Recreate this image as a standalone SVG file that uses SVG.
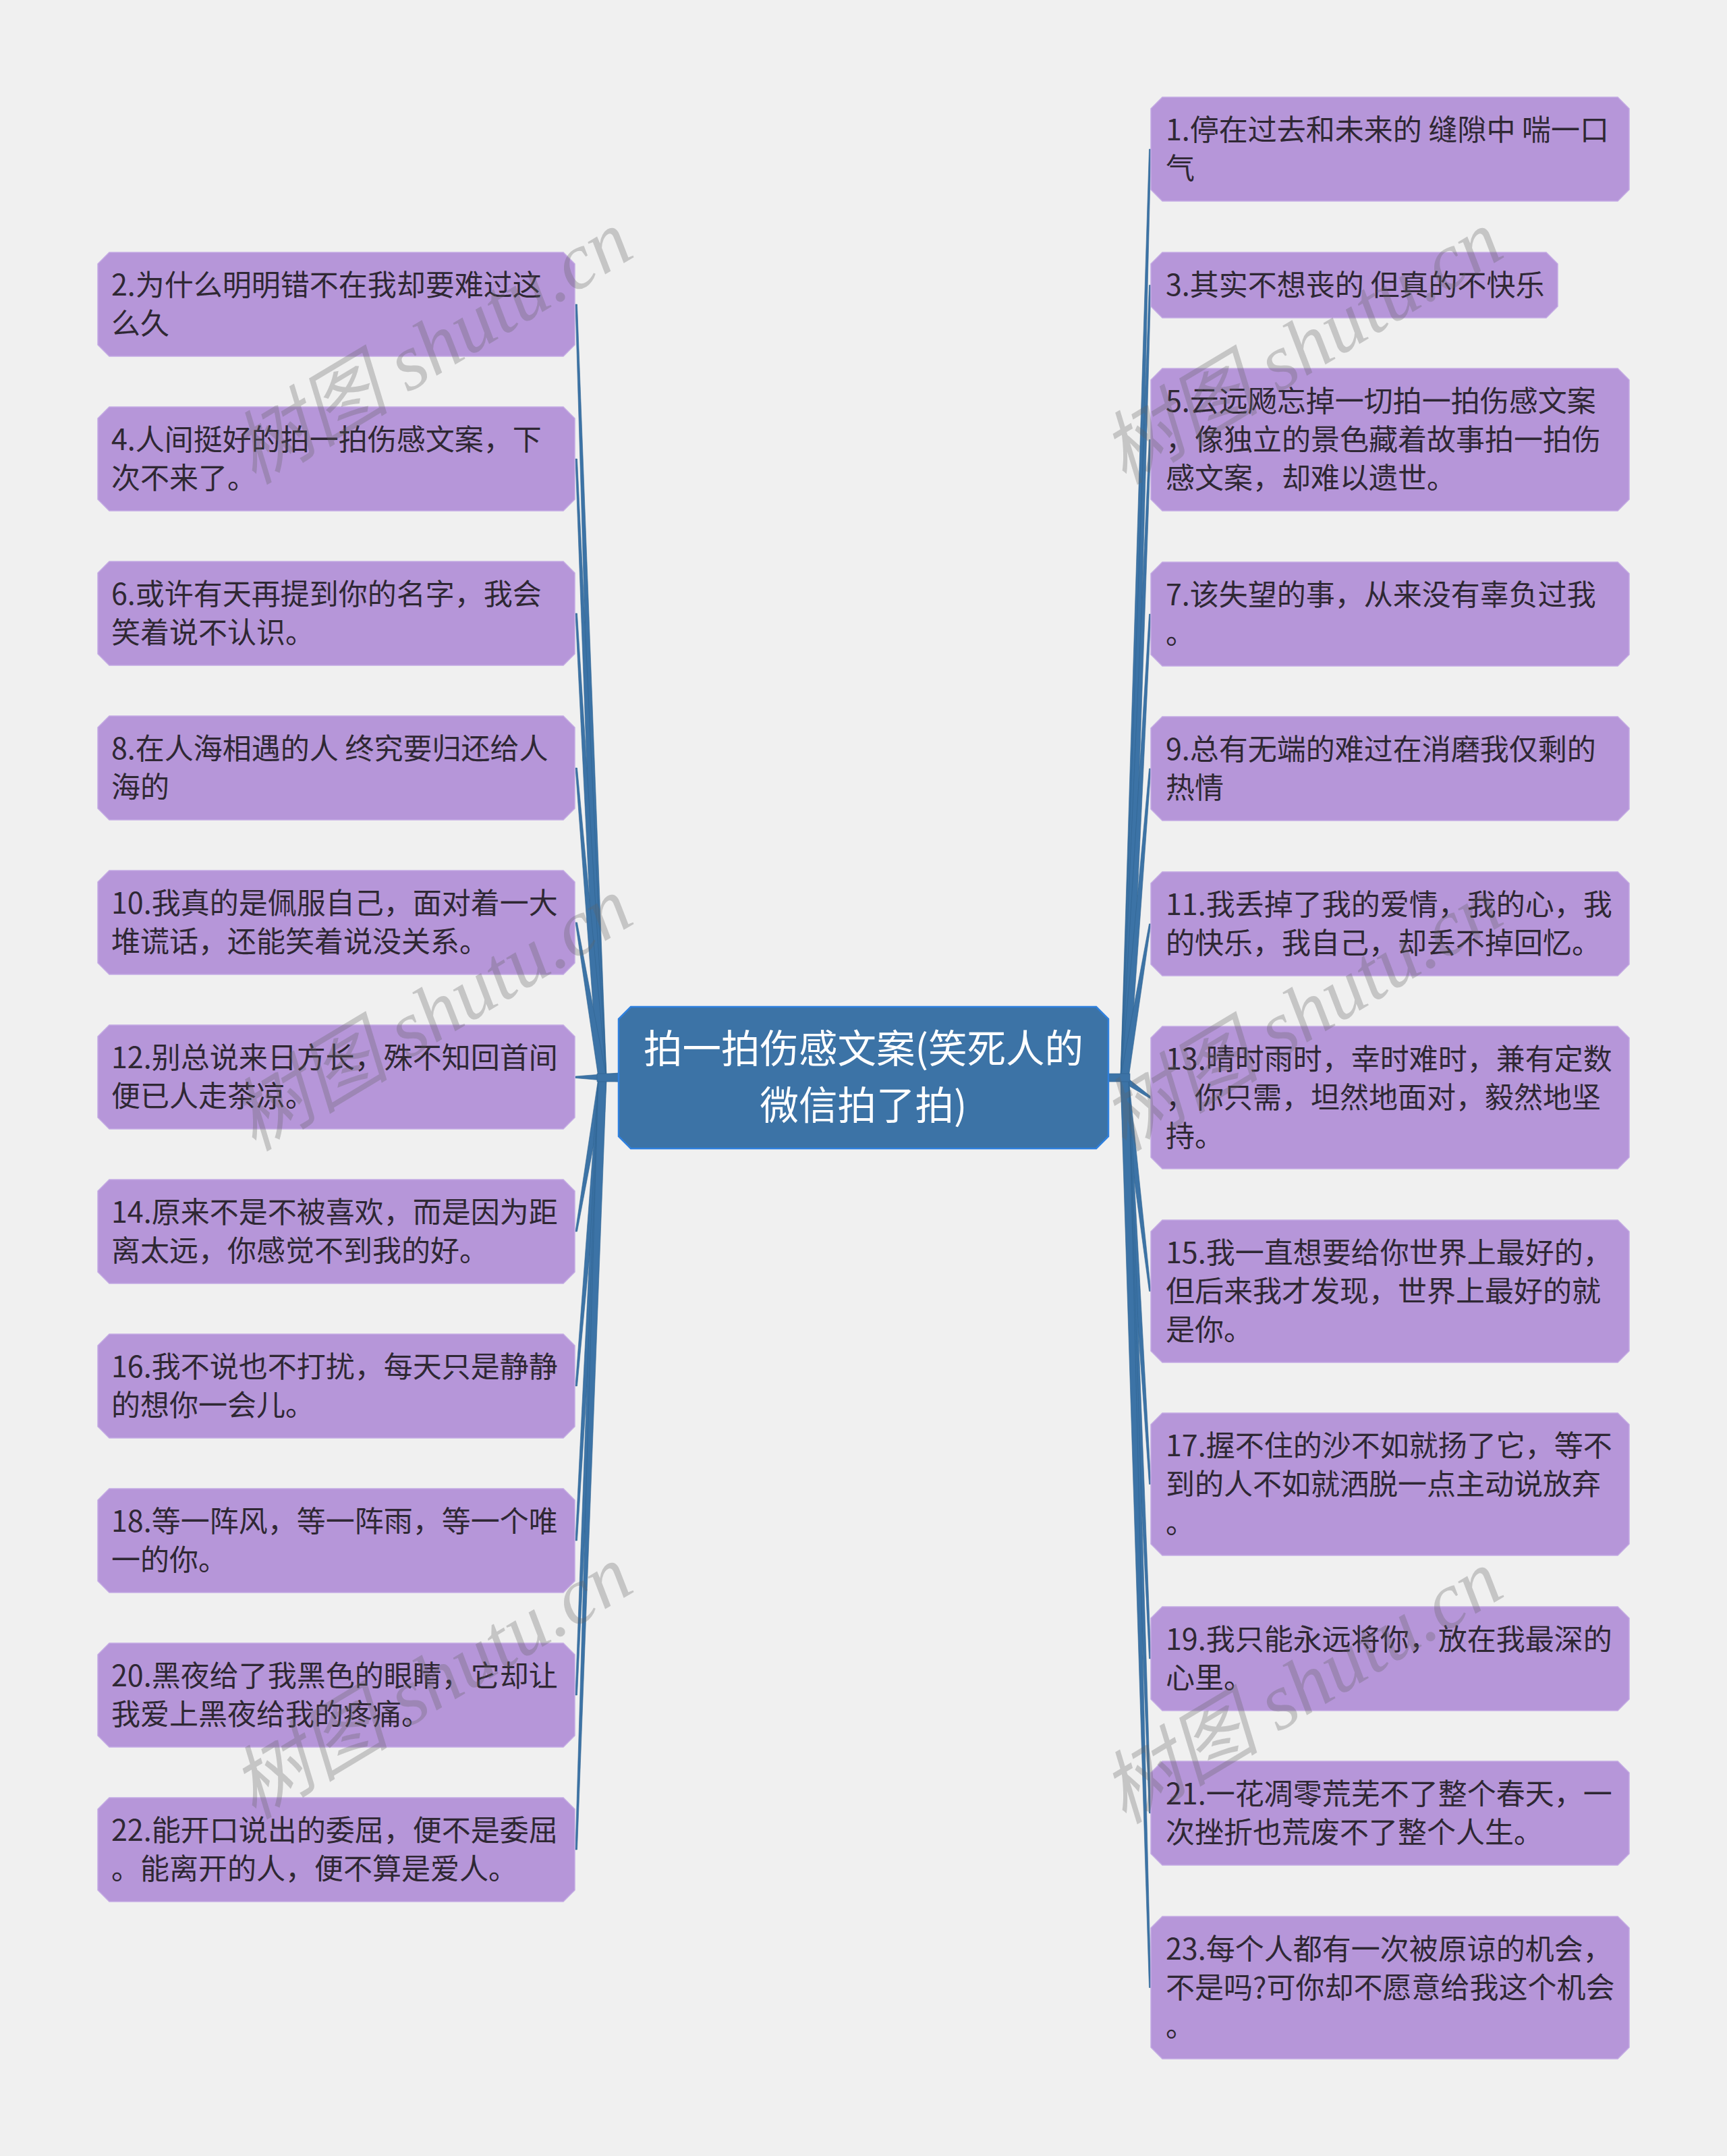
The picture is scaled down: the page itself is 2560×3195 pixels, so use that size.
<svg xmlns="http://www.w3.org/2000/svg" width="2560" height="3195" viewBox="0 0 2560 3195">
<style>
.n path{fill:#b696d9;stroke:#c3aae3;stroke-width:1.5}
.t{font-family:"Noto Sans CJK SC","Noto Sans",sans-serif;font-size:43px;fill:#2f2834}
.ct{font-family:"Noto Sans CJK SC","Noto Sans",sans-serif;font-size:57.5px;fill:#ffffff;text-anchor:middle}
.c path,.c rect{fill:#3c73a6;stroke:#2f6390;stroke-width:0.6}
.wm{font-family:"Liberation Serif","Noto Sans CJK SC",serif;font-style:italic;font-size:118px;fill:#646464;fill-opacity:0.3;text-anchor:middle;dominant-baseline:central}
</style>
<rect width="2560" height="3195" fill="#f0f0f0"/>
<g id="connectors" class="c">
<path d="M887,1597 L853,451 L855.5,451 L899,1597 Z"/>
<path d="M887,1597 L853,680 L855.5,680 L899,1597 Z"/>
<path d="M887,1597 L853,909 L855.5,909 L899,1597 Z"/>
<path d="M887,1597 L853,1138 L855.5,1138 L899,1597 Z"/>
<path d="M887,1597 L853,1367 L855.5,1367 L899,1597 Z"/>
<path d="M917,1590 L853,1595 L853,1597.5 L917,1603 Z"/>
<path d="M887,1597 L853,1825 L855.5,1825 L899,1597 Z"/>
<path d="M887,1597 L853,2054 L855.5,2054 L899,1597 Z"/>
<path d="M887,1597 L853,2283 L855.5,2283 L899,1597 Z"/>
<path d="M887,1597 L853,2512 L855.5,2512 L899,1597 Z"/>
<path d="M887,1597 L853,2741 L855.5,2741 L899,1597 Z"/>
<rect x="885" y="1591" width="34" height="12"/>
<path d="M1661,1597 L1703.5,221 L1706,221 L1673,1597 Z"/>
<path d="M1661,1597 L1703.5,422.5 L1706,422.5 L1673,1597 Z"/>
<path d="M1661,1597 L1703.5,651.5 L1706,651.5 L1673,1597 Z"/>
<path d="M1661,1597 L1703.5,910 L1706,910 L1673,1597 Z"/>
<path d="M1661,1597 L1703.5,1139 L1706,1139 L1673,1597 Z"/>
<path d="M1661,1597 L1703.5,1369 L1706,1369 L1673,1597 Z"/>
<path d="M1663,1591 L1706,1625 L1706,1628.5 L1663,1603 Z"/>
<path d="M1661,1597 L1703.5,1913.5 L1706,1913.5 L1673,1597 Z"/>
<path d="M1661,1597 L1703.5,2199.5 L1706,2199.5 L1673,1597 Z"/>
<path d="M1661,1597 L1703.5,2458 L1706,2458 L1673,1597 Z"/>
<path d="M1661,1597 L1703.5,2687 L1706,2687 L1673,1597 Z"/>
<path d="M1661,1597 L1703.5,2945.5 L1706,2945.5 L1673,1597 Z"/>
<rect x="1641" y="1591" width="34" height="12"/>
</g>
<g id="center">
<path d="M935,1492 h690 l18,18 v174 l-18,18 h-690 l-18,-18 v-174 z" fill="#3c73a6" stroke="#2f80de" stroke-width="2.5"/>
<text class="ct" x="1280" y="1575">拍一拍伤感文案(笑死人的</text>
<text class="ct" x="1280" y="1659">微信拍了拍)</text>
</g>
<g id="n2" class="n"><path d="M162,374 h673 l17,17 v120 l-17,17 h-673 l-17,-17 v-120 z"/><text class="t"><tspan x="165" y="438">2.为什么明明错不在我却要难过这</tspan><tspan x="165" y="495">么久</tspan></text></g>
<g id="n4" class="n"><path d="M162,603 h673 l17,17 v120 l-17,17 h-673 l-17,-17 v-120 z"/><text class="t"><tspan x="165" y="667">4.人间挺好的拍一拍伤感文案，下</tspan><tspan x="165" y="724">次不来了。</tspan></text></g>
<g id="n6" class="n"><path d="M162,832 h673 l17,17 v120 l-17,17 h-673 l-17,-17 v-120 z"/><text class="t"><tspan x="165" y="896">6.或许有天再提到你的名字，我会</tspan><tspan x="165" y="953">笑着说不认识。</tspan></text></g>
<g id="n8" class="n"><path d="M162,1061 h673 l17,17 v120 l-17,17 h-673 l-17,-17 v-120 z"/><text class="t"><tspan x="165" y="1125">8.在人海相遇的人 终究要归还给人</tspan><tspan x="165" y="1182">海的</tspan></text></g>
<g id="n10" class="n"><path d="M162,1290 h673 l17,17 v120 l-17,17 h-673 l-17,-17 v-120 z"/><text class="t"><tspan x="165" y="1354">10.我真的是佩服自己，面对着一大</tspan><tspan x="165" y="1411">堆谎话，还能笑着说没关系。</tspan></text></g>
<g id="n12" class="n"><path d="M162,1519 h673 l17,17 v120 l-17,17 h-673 l-17,-17 v-120 z"/><text class="t"><tspan x="165" y="1583">12.别总说来日方长，殊不知回首间</tspan><tspan x="165" y="1640">便已人走茶凉。</tspan></text></g>
<g id="n14" class="n"><path d="M162,1748 h673 l17,17 v120 l-17,17 h-673 l-17,-17 v-120 z"/><text class="t"><tspan x="165" y="1812">14.原来不是不被喜欢，而是因为距</tspan><tspan x="165" y="1869">离太远，你感觉不到我的好。</tspan></text></g>
<g id="n16" class="n"><path d="M162,1977 h673 l17,17 v120 l-17,17 h-673 l-17,-17 v-120 z"/><text class="t"><tspan x="165" y="2041">16.我不说也不打扰，每天只是静静</tspan><tspan x="165" y="2098">的想你一会儿。</tspan></text></g>
<g id="n18" class="n"><path d="M162,2206 h673 l17,17 v120 l-17,17 h-673 l-17,-17 v-120 z"/><text class="t"><tspan x="165" y="2270">18.等一阵风，等一阵雨，等一个唯</tspan><tspan x="165" y="2327">一的你。</tspan></text></g>
<g id="n20" class="n"><path d="M162,2435 h673 l17,17 v120 l-17,17 h-673 l-17,-17 v-120 z"/><text class="t"><tspan x="165" y="2499">20.黑夜给了我黑色的眼睛，它却让</tspan><tspan x="165" y="2556">我爱上黑夜给我的疼痛。</tspan></text></g>
<g id="n22" class="n"><path d="M162,2664 h673 l17,17 v120 l-17,17 h-673 l-17,-17 v-120 z"/><text class="t"><tspan x="165" y="2728">22.能开口说出的委屈，便不是委屈</tspan><tspan x="165" y="2785">。能离开的人，便不算是爱人。</tspan></text></g>
<g id="n1" class="n"><path d="M1723,144 h675 l17,17 v120 l-17,17 h-675 l-17,-17 v-120 z"/><text class="t"><tspan x="1728" y="208">1.停在过去和未来的 缝隙中 喘一口</tspan><tspan x="1728" y="265">气</tspan></text></g>
<g id="n3" class="n"><path d="M1723,374 h569 l17,17 v63 l-17,17 h-569 l-17,-17 v-63 z"/><text class="t"><tspan x="1728" y="438">3.其实不想丧的 但真的不快乐</tspan></text></g>
<g id="n5" class="n"><path d="M1723,546 h675 l17,17 v177 l-17,17 h-675 l-17,-17 v-177 z"/><text class="t"><tspan x="1728" y="610">5.云远飏忘掉一切拍一拍伤感文案</tspan><tspan x="1728" y="667">，像独立的景色藏着故事拍一拍伤</tspan><tspan x="1728" y="724">感文案，却难以遗世。</tspan></text></g>
<g id="n7" class="n"><path d="M1723,833 h675 l17,17 v120 l-17,17 h-675 l-17,-17 v-120 z"/><text class="t"><tspan x="1728" y="897">7.该失望的事，从来没有辜负过我</tspan><tspan x="1728" y="954">。</tspan></text></g>
<g id="n9" class="n"><path d="M1723,1062 h675 l17,17 v120 l-17,17 h-675 l-17,-17 v-120 z"/><text class="t"><tspan x="1728" y="1126">9.总有无端的难过在消磨我仅剩的</tspan><tspan x="1728" y="1183">热情</tspan></text></g>
<g id="n11" class="n"><path d="M1723,1292 h675 l17,17 v120 l-17,17 h-675 l-17,-17 v-120 z"/><text class="t"><tspan x="1728" y="1356">11.我丢掉了我的爱情，我的心，我</tspan><tspan x="1728" y="1413">的快乐，我自己，却丢不掉回忆。</tspan></text></g>
<g id="n13" class="n"><path d="M1723,1521 h675 l17,17 v177 l-17,17 h-675 l-17,-17 v-177 z"/><text class="t"><tspan x="1728" y="1585">13.晴时雨时，幸时难时，兼有定数</tspan><tspan x="1728" y="1642">，你只需，坦然地面对，毅然地坚</tspan><tspan x="1728" y="1699">持。</tspan></text></g>
<g id="n15" class="n"><path d="M1723,1808 h675 l17,17 v177 l-17,17 h-675 l-17,-17 v-177 z"/><text class="t"><tspan x="1728" y="1872">15.我一直想要给你世界上最好的，</tspan><tspan x="1728" y="1929">但后来我才发现，世界上最好的就</tspan><tspan x="1728" y="1986">是你。</tspan></text></g>
<g id="n17" class="n"><path d="M1723,2094 h675 l17,17 v177 l-17,17 h-675 l-17,-17 v-177 z"/><text class="t"><tspan x="1728" y="2158">17.握不住的沙不如就扬了它，等不</tspan><tspan x="1728" y="2215">到的人不如就洒脱一点主动说放弃</tspan><tspan x="1728" y="2272">。</tspan></text></g>
<g id="n19" class="n"><path d="M1723,2381 h675 l17,17 v120 l-17,17 h-675 l-17,-17 v-120 z"/><text class="t"><tspan x="1728" y="2445">19.我只能永远将你，放在我最深的</tspan><tspan x="1728" y="2502">心里。</tspan></text></g>
<g id="n21" class="n"><path d="M1723,2610 h675 l17,17 v120 l-17,17 h-675 l-17,-17 v-120 z"/><text class="t"><tspan x="1728" y="2674">21.一花凋零荒芜不了整个春天，一</tspan><tspan x="1728" y="2731">次挫折也荒废不了整个人生。</tspan></text></g>
<g id="n23" class="n"><path d="M1723,2840 h675 l17,17 v177 l-17,17 h-675 l-17,-17 v-177 z"/><text class="t"><tspan x="1728" y="2904">23.每个人都有一次被原谅的机会，</tspan><tspan x="1728" y="2961">不是吗?可你却不愿意给我这个机会</tspan><tspan x="1728" y="3018">。</tspan></text></g>
<g id="watermarks">
<text class="wm" transform="translate(640,515) rotate(-31)">树图 shutu.cn</text>
<text class="wm" transform="translate(1930,515) rotate(-31)">树图 shutu.cn</text>
<text class="wm" transform="translate(640,1503) rotate(-31)">树图 shutu.cn</text>
<text class="wm" transform="translate(1930,1503) rotate(-31)">树图 shutu.cn</text>
<text class="wm" transform="translate(640,2493) rotate(-31)">树图 shutu.cn</text>
<text class="wm" transform="translate(1930,2500) rotate(-31)">树图 shutu.cn</text>
</g>
</svg>
